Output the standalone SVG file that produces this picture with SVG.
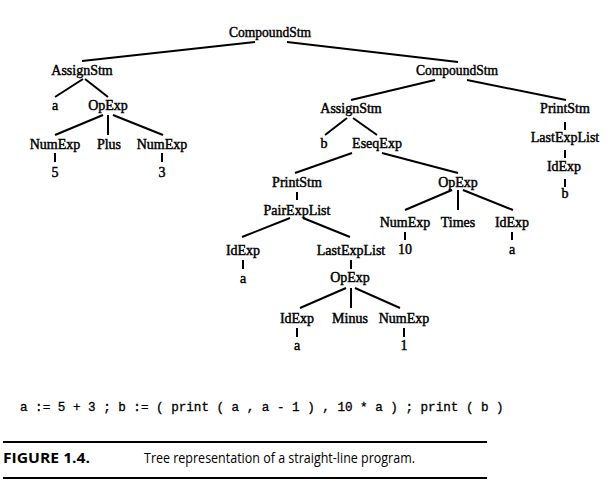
<svg xmlns="http://www.w3.org/2000/svg" width="608" height="484" viewBox="0 0 608 484">
<style>
.n{font-family:"Liberation Serif","Times New Roman",serif;font-size:14px;text-anchor:middle;fill:#000;stroke:#000;stroke-width:0.45}
.e line{stroke:#000;stroke-width:2;stroke-linecap:butt}
.code{font-family:"Liberation Mono","Courier New",monospace;font-size:12.6px;fill:#000;stroke:#000;stroke-width:0.3}
.fig{font-family:"Open Sans","Noto Sans",sans-serif;font-size:14px;font-weight:bold;fill:#000}
.cap{font-family:"Open Sans","Noto Sans",sans-serif;font-size:14px;fill:#000}
</style>
<rect width="608" height="484" fill="#fff"/>
<g class="e" id="connectors">
<line x1="255" y1="42" x2="82" y2="61"/>
<line x1="287" y1="42" x2="458" y2="62"/>
<line x1="83" y1="79" x2="55" y2="97"/>
<line x1="85" y1="79" x2="108" y2="97"/>
<line x1="103" y1="115" x2="55" y2="135"/>
<line x1="108" y1="115" x2="108" y2="135"/>
<line x1="113" y1="115" x2="163" y2="135"/>
<line x1="55" y1="153" x2="55" y2="162"/>
<line x1="162" y1="153" x2="162" y2="162"/>
<line x1="435" y1="80" x2="351" y2="100"/>
<line x1="467" y1="80" x2="566" y2="100"/>
<line x1="565" y1="122" x2="565" y2="130"/>
<line x1="565" y1="150" x2="565" y2="158"/>
<line x1="565" y1="179" x2="565" y2="187"/>
<line x1="347" y1="118" x2="325" y2="135"/>
<line x1="353" y1="118" x2="377" y2="135"/>
<line x1="352" y1="153" x2="295" y2="173"/>
<line x1="382" y1="153" x2="458" y2="173"/>
<line x1="297" y1="192" x2="297" y2="200"/>
<line x1="452" y1="190" x2="405" y2="210"/>
<line x1="458" y1="190" x2="458" y2="210"/>
<line x1="463" y1="190" x2="513" y2="210"/>
<line x1="405" y1="232" x2="405" y2="240"/>
<line x1="512" y1="232" x2="512" y2="240"/>
<line x1="290" y1="218" x2="242" y2="237"/>
<line x1="303" y1="218" x2="350" y2="237"/>
<line x1="243" y1="260" x2="243" y2="269"/>
<line x1="351" y1="260" x2="351" y2="269"/>
<line x1="346" y1="288" x2="300" y2="308"/>
<line x1="351" y1="288" x2="351" y2="308"/>
<line x1="355" y1="288" x2="400" y2="308"/>
<line x1="297" y1="328" x2="297" y2="337"/>
<line x1="404" y1="328" x2="404" y2="337"/>
</g>
<g id="root"><text class="n" x="270" y="37" textLength="82" lengthAdjust="spacingAndGlyphs">CompoundStm</text></g>
<g id="as1"><text class="n" x="82" y="75">AssignStm</text></g>
<g id="cs2"><text class="n" x="457" y="75" textLength="82" lengthAdjust="spacingAndGlyphs">CompoundStm</text></g>
<g id="a1"><text class="n" x="55" y="110">a</text></g>
<g id="op1"><text class="n" x="108" y="110">OpExp</text></g>
<g id="n5"><text class="n" x="55" y="149">NumExp</text></g>
<g id="plus"><text class="n" x="109" y="149">Plus</text></g>
<g id="n3"><text class="n" x="162" y="149">NumExp</text></g>
<g id="v5"><text class="n" x="55" y="177">5</text></g>
<g id="v3"><text class="n" x="162" y="177">3</text></g>
<g id="as2"><text class="n" x="351" y="113">AssignStm</text></g>
<g id="ps1"><text class="n" x="565" y="113">PrintStm</text></g>
<g id="b1"><text class="n" x="324" y="148">b</text></g>
<g id="eseq"><text class="n" x="377" y="148">EseqExp</text></g>
<g id="lel1"><text class="n" x="565" y="142">LastExpList</text></g>
<g id="id1"><text class="n" x="564" y="171">IdExp</text></g>
<g id="b2"><text class="n" x="565" y="198">b</text></g>
<g id="ps2"><text class="n" x="297" y="187">PrintStm</text></g>
<g id="op2"><text class="n" x="458" y="187">OpExp</text></g>
<g id="pel"><text class="n" x="297" y="215">PairExpList</text></g>
<g id="n10"><text class="n" x="405" y="227">NumExp</text></g>
<g id="times"><text class="n" x="458" y="227">Times</text></g>
<g id="id2"><text class="n" x="512" y="227">IdExp</text></g>
<g id="v10"><text class="n" x="405" y="254">10</text></g>
<g id="a2"><text class="n" x="512" y="254">a</text></g>
<g id="id3"><text class="n" x="243" y="255">IdExp</text></g>
<g id="lel2"><text class="n" x="351" y="255">LastExpList</text></g>
<g id="a3"><text class="n" x="243" y="283">a</text></g>
<g id="op3"><text class="n" x="350" y="282">OpExp</text></g>
<g id="id4"><text class="n" x="297" y="323">IdExp</text></g>
<g id="minus"><text class="n" x="350" y="323">Minus</text></g>
<g id="n1"><text class="n" x="404" y="323">NumExp</text></g>
<g id="a4"><text class="n" x="297" y="350">a</text></g>
<g id="v1"><text class="n" x="404" y="350">1</text></g>
<text class="code" x="20" y="411" xml:space="preserve">a := 5 + 3 ; b := ( print ( a , a - 1 ) , 10 * a ) ; print ( b )</text>
<line x1="3" y1="442" x2="487" y2="442" stroke="#000" stroke-width="2"/>
<text class="fig" x="3" y="463" textLength="87" lengthAdjust="spacingAndGlyphs">FIGURE 1.4.</text>
<text class="cap" x="144" y="463" textLength="271" lengthAdjust="spacingAndGlyphs">Tree representation of a straight-line program.</text>
<line x1="3" y1="478" x2="487" y2="478" stroke="#000" stroke-width="2"/>
</svg>
